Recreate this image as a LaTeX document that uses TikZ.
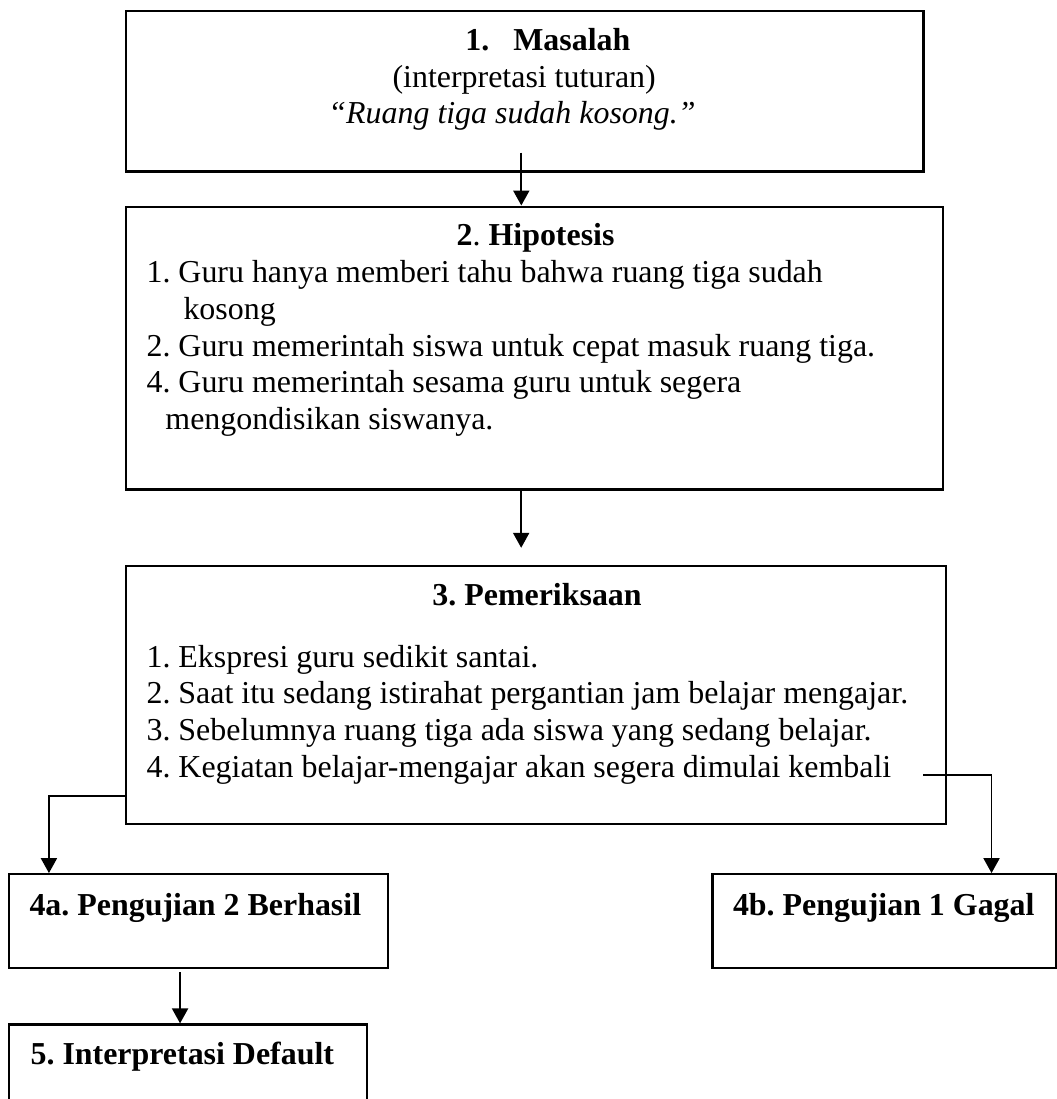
\documentclass[tikz,border=0pt]{standalone}
\usepackage{fontspec}
\setmainfont{Liberation Serif}
\frenchspacing
\usetikzlibrary{positioning,arrows.meta,calc}
\tikzstyle{line} = [draw, -{Triangle[length=5.6pt,width=6pt]}, line width=.7pt, fill=none]

\begin{document}
\begin{tikzpicture}[
    box/.style={
      draw,
      rectangle,
      line width=.9pt,
      inner sep=0pt,
      fill=none,
    },
    txt/.style={
      inner sep=0pt,
      align=left,
      font=\fontsize{12}{13.8}\selectfont,
    },
  ]

  \useasboundingbox (0,0) rectangle (397.1pt,-413.2pt);

  \node[box,minimum width=299.7pt,minimum height=60.2pt,anchor=north west] (masalah) at (47pt,-3.76pt) {};
  \node[box,minimum width=307.2pt,minimum height=106.4pt,below=12.4pt of masalah.south west,anchor=north west] (hipotesis) {};
  \node[box,minimum width=308.3pt,minimum height=97pt,below=27.8pt of hipotesis.south west,anchor=north west] (periksa) {};
  \node[box,minimum width=142.5pt,minimum height=35.3pt,below=18pt of periksa.south west,anchor=north west,xshift=-44pt] (uji2) {};
  \node[box,minimum width=129.3pt,minimum height=35.3pt,right=121.1pt of uji2.north east,anchor=north west] (uji1) {};
  \node[box,minimum width=134.6pt,minimum height=40pt,below=20.3pt of uji2.south west,anchor=north west] (default) {};

  \node[txt,below right=5pt and 76.3pt of masalah.north west] (tmasalah)
    {\rule{0pt}{10pt}\hspace*{51.5pt}\textbf{1.\hspace{9pt}Masalah}\\
     \hspace*{24.1pt}(interpretasi tuturan)\\
     \textit{“Ruang tiga sudah kosong.”}};
  \node[txt,below right=5pt and 7.9pt of hipotesis.north west] (thipotesis)
    {\rule{0pt}{10pt}\hspace*{116.6pt}\textbf{2}.\ \textbf{Hipotesis}\\
     1. Guru hanya memberi tahu bahwa ruang tiga sudah\\
     \hspace*{13.9pt}kosong\\
     2. Guru memerintah siswa untuk cepat masuk ruang tiga.\\
     4. Guru memerintah sesama guru untuk segera\\
     \hspace*{7.1pt}mengondisikan siswanya.};
  \node[txt,below right=5pt and 7.9pt of periksa.north west] (tperiksa)
    {\rule{0pt}{10pt}\hspace*{107.5pt}\textbf{3. Pemeriksaan}\\[9.5pt]
     1. Ekspresi guru sedikit santai.\\
     2. Saat itu sedang istirahat pergantian jam belajar mengajar.\\
     3. Sebelumnya ruang tiga ada siswa yang sedang belajar.\\
     4. Kegiatan belajar-mengajar akan segera dimulai kembali};
  \node[txt,below right=5.8pt and 7.9pt of uji2.north west] (tuji2)
    {\rule{0pt}{10pt}\textbf{4a. Pengujian 2 Berhasil}};
  \node[txt,below right=5.8pt and 7.9pt of uji1.north west] (tuji1)
    {\rule{0pt}{10pt}\textbf{4b. Pengujian 1 Gagal}};
  \node[txt,below right=5.4pt and 8.3pt of default.north west] (tdefault)
    {\rule{0pt}{10pt}\textbf{5. Interpretasi Default}};

  \draw[line] ([xshift=-1.3pt,yshift=7.5pt]masalah.south) -- ([xshift=-1.3pt]masalah.south |- hipotesis.north);
  \draw[line] ([xshift=-5.1pt]hipotesis.south) -- ([xshift=-5.1pt,yshift=6.4pt]hipotesis.south |- periksa.north);
  \draw[line] ([yshift=10.9pt]periksa.south west) -| ([xshift=15.4pt]uji2.north west);
  \draw[line] ([xshift=-9pt,yshift=18.8pt]periksa.south east) -| ([xshift=105.3pt]uji1.north west);
  \draw[line] ([xshift=64.7pt,yshift=-1.1pt]uji2.south west) -- ([xshift=64.7pt]uji2.south west |- default.north);

\end{tikzpicture}
\end{document}
